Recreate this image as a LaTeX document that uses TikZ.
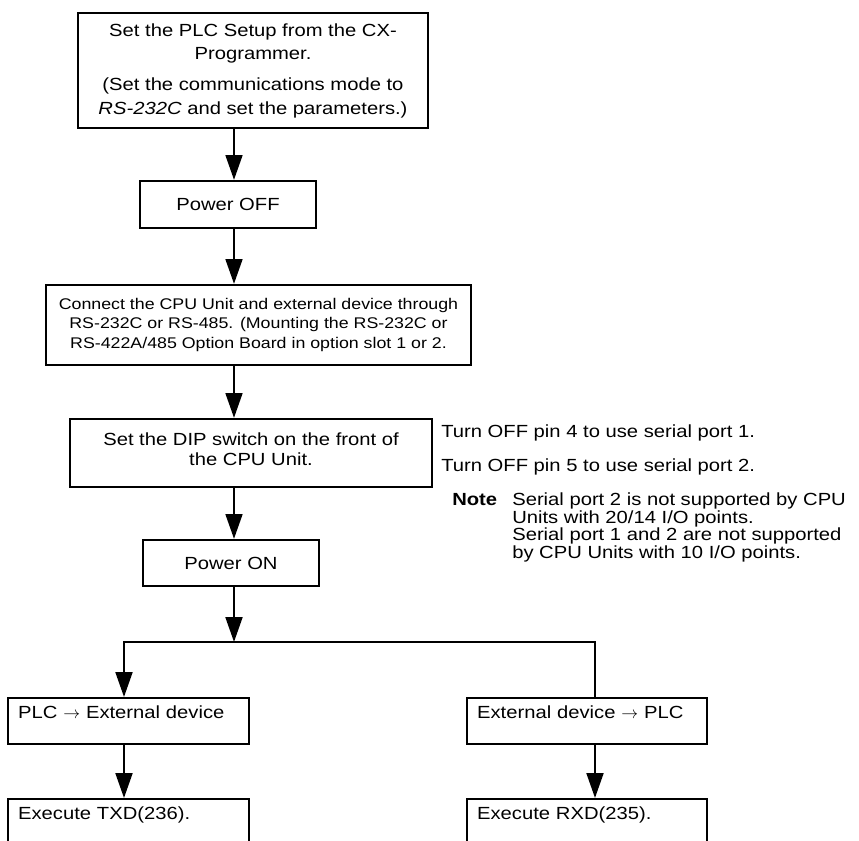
\documentclass[tikz,border=0pt]{standalone}
\usepackage{fontspec}
\setmainfont{Liberation Sans}[FakeStretch=1.15]
\usepackage{tikz}
\usetikzlibrary{arrows.meta,positioning,calc}
\tikzset{
  stepbox/.style={draw=black, line width=1.6pt, align=center, inner sep=4pt, font=\fontsize{12.5pt}{16.5pt}\selectfont},
  smallbox/.style={stepbox, font=\fontsize{11pt}{13.7pt}\selectfont},
  branchbox/.style={draw=black, line width=1.6pt, anchor=north west, align=left, inner xsep=0.25cm, inner ysep=0.2cm, text height=0.32cm, font=\fontsize{12.5pt}{15pt}\selectfont},
  flow/.style={-{Triangle[length=0.62cm, width=0.42cm]}, line width=1.6pt},
  plainline/.style={line width=1.6pt},
  sidetext/.style={anchor=base west, inner sep=0pt, font=\fontsize{12.5pt}{12.6pt}\selectfont}
}
\begin{document}
\begin{tikzpicture}
  \useasboundingbox (0,0) rectangle (21.475,-21.025);
  \clip (0,0) rectangle (21.475,-21.025);
  \coordinate (trunk) at (5.85,-16.05);
  \coordinate (lbranch) at (3.1,-16.05);
  \coordinate (rbranch) at (14.875,-16.05);

  \node[stepbox, minimum width=8.75cm, minimum height=2.875cm] (setup) at (6.325,-1.7625) {Set the PLC Setup from the CX-\\Programmer.\\[6pt](Set the communications mode to\\\textit{RS-232C} and set the parameters.)};
  \node[stepbox, minimum width=4.4cm, minimum height=1.175cm] (off) at (5.7,-5.1125) {Power OFF};
  \node[smallbox, minimum width=10.625cm, minimum height=2cm] (connect) at (6.4625,-8.125) {Connect the CPU Unit and external device through\\RS-232C or RS-485. (Mounting the RS-232C or\\RS-422A/485 Option Board in option slot 1 or 2.};
  \node[stepbox, minimum width=9.05cm, minimum height=1.7cm, text depth=0.2cm, font=\fontsize{12.5pt}{14.4pt}\selectfont] (dip) at (6.275,-11.325) {Set the DIP switch on the front of\\the CPU Unit.};
  \node[stepbox, minimum width=4.4cm, minimum height=1.15cm] (on) at (5.775,-14.075) {Power ON};

  \node[branchbox, text width=5.525cm, text depth=0.43cm] (plc) at (0.175,-17.425) {PLC $\rightarrow$ External device};
  \node[branchbox, text width=5.5cm, text depth=0.43cm] (ext) at (11.65,-17.425) {External device $\rightarrow$ PLC};
  \node[branchbox, text width=5.525cm, text depth=0.9cm] (txd) at (0.175,-19.95) {Execute TXD(236).};
  \node[branchbox, text width=5.5cm, text depth=0.9cm] (rxd) at (11.65,-19.95) {Execute RXD(235).};

  \node[sidetext] (pin4) at (11.025,-10.925) {Turn OFF pin 4 to use serial port 1.};
  \node[sidetext] (pin5) at (11.025,-11.775) {Turn OFF pin 5 to use serial port 2.};
  \node[sidetext, font=\fontsize{12.5pt}{12.6pt}\selectfont\bfseries] (note) at (11.3,-12.625) {Note};
  \node[sidetext, anchor=north west, align=left] (notebody) at (12.8,-12.308) {Serial port 2 is not supported by CPU\\Units with 20/14 I/O points.\\Serial port 1 and 2 are not supported\\by CPU Units with 10 I/O points.};

  \draw[flow] (setup.south -| trunk) -- (off.north -| trunk);
  \draw[flow] (off.south -| trunk) -- (connect.north -| trunk);
  \draw[flow] (connect.south -| trunk) -- (dip.north -| trunk);
  \draw[flow] (dip.south -| trunk) -- (on.north -| trunk);
  \draw[flow] (on.south -| trunk) -- (trunk);
  \draw[flow] (trunk) -- (lbranch) -- (plc.north -| lbranch);
  \draw[plainline] (trunk) -- (rbranch) -- (ext.north -| rbranch);
  \draw[flow] (plc.south -| lbranch) -- (txd.north -| lbranch);
  \draw[flow] (ext.south -| rbranch) -- (rxd.north -| rbranch);
\end{tikzpicture}
\end{document}
